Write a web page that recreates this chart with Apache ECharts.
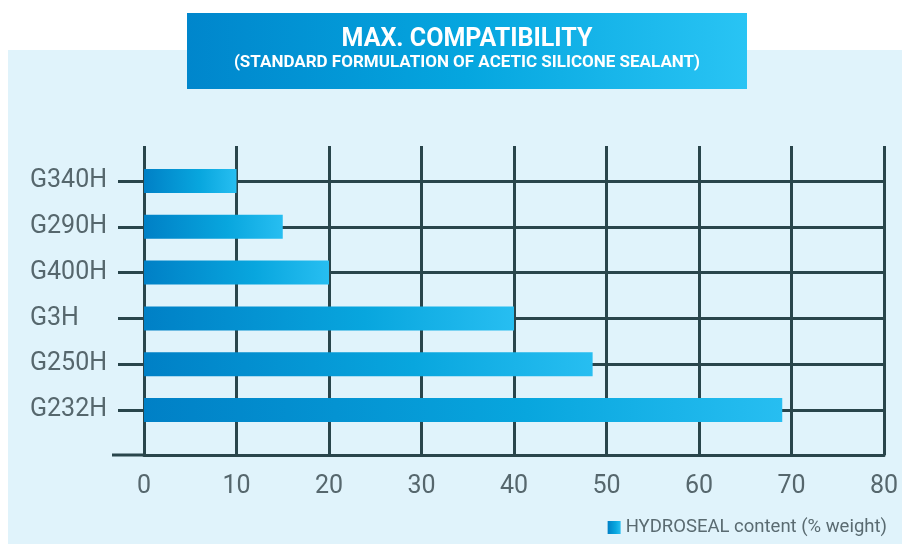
<!DOCTYPE html>
<html>
<head>
<meta charset="utf-8">
<script src="https://cdn.jsdelivr.net/npm/echarts@6/dist/echarts.min.js"></script>
<style>html,body{margin:0;padding:0;background:#fff;}#c{width:902px;height:544px;}</style>
</head>
<body>
<div id="c"></div>
<script>
const categories = ['G232H', 'G250H', 'G3H', 'G400H', 'G290H', 'G340H'];
const values = [69, 48.5, 40, 20, 15, 10];
const xTicks = [0, 10, 20, 30, 40, 50, 60, 70, 80];
const titleText = 'MAX. COMPATIBILITY';
const subtitleText = '(STANDARD FORMULATION OF ACETIC SILICONE SEALANT)';
const seriesName = 'HYDROSEAL content (% weight)';

const lineColor = '#29454b';
const labelColor = '#56676d';
const barGrad = new echarts.graphic.LinearGradient(0, 0, 1, 0, [
  {offset: 0, color: '#0080c6'},
  {offset: 0.6, color: '#08a6de'},
  {offset: 1, color: '#27bef1'}
]);

const chart = echarts.init(document.getElementById('c'), null, {renderer: 'canvas'});
chart.setOption({
  backgroundColor: '#ffffff',
  animation: false,
  graphic: [
    {type: 'rect', z: -10, shape: {x: 8, y: 50, width: 894, height: 494}, style: {fill: '#e0f3fb'}},
    {type: 'rect', z: 10, shape: {x: 187, y: 13, width: 560, height: 76},
      style: {fill: new echarts.graphic.LinearGradient(0, 0, 1, 0, [
        {offset: 0, color: '#0086cc'}, {offset: 0.5, color: '#05a6df'}, {offset: 1, color: '#29c4f4'}])}},
    {type: 'text', z: 11, x: 467, y: 40, style: {text: titleText, fill: '#ffffff', font: 'bold 25px Roboto, "Noto Sans", sans-serif', align: 'center', verticalAlign: 'middle'}},
    {type: 'text', z: 11, x: 467, y: 63, style: {text: subtitleText, fill: '#ffffff', font: 'bold 17px Roboto, "Noto Sans", sans-serif', align: 'center', verticalAlign: 'middle'}},
    {type: 'line', z: 1, shape: {x1: 112, y1: 455, x2: 144, y2: 455}, style: {stroke: lineColor, lineWidth: 3}}
  ],
  grid: {left: 144, right: 18, top: 181, bottom: 134, containLabel: false},
  legend: {
    right: 10, bottom: 2, icon: 'rect', itemWidth: 13, itemHeight: 13, itemGap: 5,
    data: [seriesName],
    textStyle: {fontSize: 18.5, color: '#5a6b71', fontFamily: 'Roboto, sans-serif'}
  },
  xAxis: {
    type: 'value', min: xTicks[0], max: xTicks[xTicks.length - 1], interval: 10,
    position: 'bottom', offset: 45,
    axisLine: {show: true, lineStyle: {color: lineColor, width: 3}},
    axisTick: {show: true, inside: true, length: 309, lineStyle: {color: lineColor, width: 3}},
    splitLine: {show: false},
    axisLabel: {margin: 19, fontSize: 25, color: labelColor, fontFamily: '"Liberation Sans Narrow", "Roboto", sans-serif'}
  },
  yAxis: {
    type: 'category', data: categories, boundaryGap: false,
    axisLine: {show: false},
    axisTick: {show: true, length: 26, lineStyle: {color: lineColor, width: 3}},
    splitLine: {show: true, lineStyle: {color: lineColor, width: 3}},
    axisLabel: {margin: 114, align: 'left', fontSize: 25, color: labelColor, fontFamily: 'Roboto, sans-serif'}
  },
  series: [{
    name: seriesName, type: 'bar', data: values, barWidth: 24,
    itemStyle: {color: barGrad}
  }]
});
</script>
</body>
</html>
